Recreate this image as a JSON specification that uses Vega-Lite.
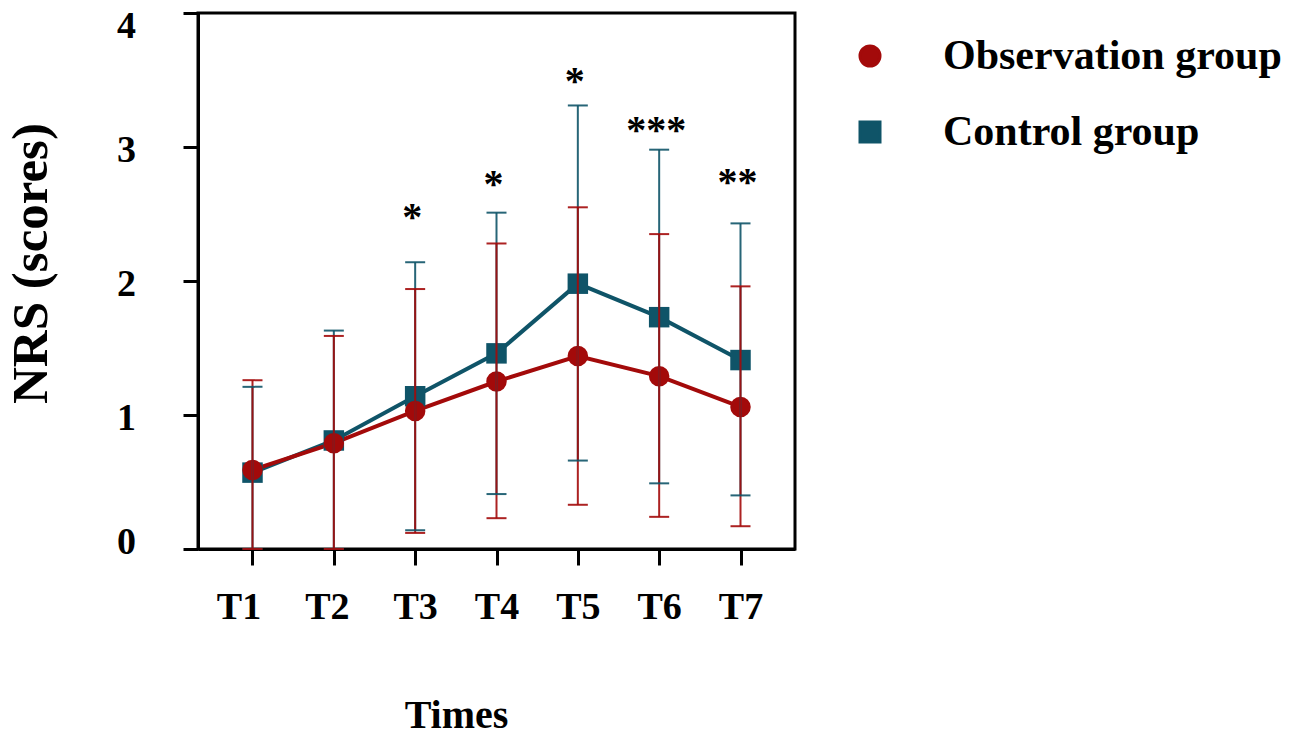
{
  "$schema": "https://vega.github.io/schema/vega-lite/v6.json",
  "width": 597,
  "height": 536,
  "autosize": "none",
  "padding": {"left": 198, "top": 13, "right": 498, "bottom": 189},
  "background": "white",
  "config": {
    "view": {"stroke": "#000", "strokeWidth": 3},
    "font": "Liberation Serif"
  },
  "datasets": {
    "stats": [
      {"time": "T1", "group": "Control group", "mean": 0.57, "lower": 0.0, "upper": 1.21},
      {"time": "T2", "group": "Control group", "mean": 0.81, "lower": 0.0, "upper": 1.63},
      {"time": "T3", "group": "Control group", "mean": 1.14, "lower": 0.14, "upper": 2.14},
      {"time": "T4", "group": "Control group", "mean": 1.46, "lower": 0.41, "upper": 2.51},
      {"time": "T5", "group": "Control group", "mean": 1.98, "lower": 0.66, "upper": 3.31},
      {"time": "T6", "group": "Control group", "mean": 1.73, "lower": 0.49, "upper": 2.98},
      {"time": "T7", "group": "Control group", "mean": 1.41, "lower": 0.40, "upper": 2.43},
      {"time": "T1", "group": "Observation group", "mean": 0.59, "lower": 0.0, "upper": 1.26},
      {"time": "T2", "group": "Observation group", "mean": 0.79, "lower": 0.0, "upper": 1.59},
      {"time": "T3", "group": "Observation group", "mean": 1.03, "lower": 0.12, "upper": 1.94},
      {"time": "T4", "group": "Observation group", "mean": 1.25, "lower": 0.23, "upper": 2.28},
      {"time": "T5", "group": "Observation group", "mean": 1.44, "lower": 0.33, "upper": 2.55},
      {"time": "T6", "group": "Observation group", "mean": 1.29, "lower": 0.24, "upper": 2.35},
      {"time": "T7", "group": "Observation group", "mean": 1.06, "lower": 0.17, "upper": 1.96}
    ],
    "sig": [
      {"time": "T3", "label": "*", "ypos": 2.52},
      {"time": "T4", "label": "*", "ypos": 2.77},
      {"time": "T5", "label": "*", "ypos": 3.54},
      {"time": "T6", "label": "***", "ypos": 3.17},
      {"time": "T7", "label": "**", "ypos": 2.78}
    ]
  },
  "data": {"name": "stats"},
  "encoding": {
    "x": {
      "field": "time",
      "type": "ordinal",
      "scale": {"type": "point", "domain": ["T1", "T2", "T3", "T4", "T5", "T6", "T7"], "padding": 0.67},
      "axis": {
        "title": "Times",
        "titleFont": "Liberation Serif",
        "titleFontSize": 40,
        "titleFontWeight": "bold",
        "titleColor": "#000",
        "titleX": 258,
        "titleY": 178,
        "titleAlign": "center",
        "titleBaseline": "alphabetic",
        "labelAngle": 0,
        "labelFont": "Liberation Serif",
        "labelFontSize": 38,
        "labelFontWeight": "bold",
        "labelColor": "#000",
        "labelBaseline": "alphabetic",
        "labelPadding": 53,
        "labelOffset": {"condition": [{"test": "datum.value === 'T1'", "value": -14}, {"test": "datum.value === 'T2'", "value": -7}], "value": 0},
        "tickSize": 16,
        "tickWidth": 3,
        "tickColor": "#000",
        "domainColor": "#000",
        "domainWidth": 3,
        "grid": false
      }
    },
    "y": {
      "type": "quantitative",
      "scale": {"domain": [0, 4], "nice": false, "zero": true},
      "axis": {
        "title": "NRS (scores)",
        "titleFont": "Liberation Serif",
        "titleFontSize": 51,
        "titleFontWeight": "bold",
        "titleColor": "#000",
        "titleAngle": -90,
        "titleX": -152,
        "titleY": 250,
        "titleAlign": "center",
        "titleBaseline": "alphabetic",
        "values": [0, 1, 2, 3, 4],
        "labelFont": "Liberation Serif",
        "labelFontSize": 38,
        "labelFontWeight": "bold",
        "labelColor": "#000",
        "labelAlign": "center",
        "labelBaseline": "middle",
        "labelPadding": 57,
        "labelOffset": {"condition": [{"test": "datum.value === 4", "value": 13}, {"test": "datum.value === 0", "value": -7}], "value": 3},
        "tickSize": 15,
        "tickWidth": 3,
        "tickColor": "#000",
        "domainColor": "#000",
        "domainWidth": 3,
        "grid": false
      }
    }
  },
  "layer": [
    {
      "mark": {"type": "line", "strokeWidth": 4},
      "encoding": {
        "y": {"field": "mean", "type": "quantitative"},
        "color": {
          "field": "group",
          "type": "nominal",
          "scale": {"domain": ["Observation group", "Control group"], "range": ["#a30a0a", "#0f5468"]},
          "legend": {
            "orient": "none",
            "legendX": 651,
            "legendY": 22,
            "title": null,
            "labelFont": "Liberation Serif",
            "labelFontSize": 42,
            "labelFontWeight": "bold",
            "labelColor": "#000",
            "labelOffset": 52,
            "labelLimit": 0,
            "symbolSize": 400,
            "symbolStrokeWidth": 3,
            "rowPadding": 34,
            "encode": {
              "symbols": {
                "update": {
                  "shape": {"signal": "datum.value === 'Observation group' ? 'M-2.25,0H2.25M0.95,0A0.95,0.95,0,1,1,-0.95,0A0.95,0.95,0,1,1,0.95,0Z' : 'M-2.25,0H2.25M-0.95,-0.95H0.95V0.95H-0.95Z'"},
                  "fill": {"signal": "datum.value === 'Observation group' ? '#a30a0a' : '#0f5468'"},
                  "stroke": {"signal": "datum.value === 'Observation group' ? '#a30a0a' : '#0f5468'"},
                  "strokeWidth": {"value": 3},
                  "opacity": {"value": 1},
                  "fillOpacity": {"value": 1},
                  "strokeOpacity": {"value": 1}
                }
              }
            }
          }
        }
      }
    },
    {
      "mark": {"type": "point", "filled": true, "opacity": 1, "size": 420},
      "encoding": {
        "y": {"field": "mean", "type": "quantitative"},
        "color": {"field": "group", "type": "nominal", "legend": null},
        "shape": {
          "field": "group",
          "type": "nominal",
          "scale": {"domain": ["Observation group", "Control group"], "range": ["circle", "square"]},
          "legend": null
        }
      }
    },
    {
      "mark": {"type": "rule", "strokeWidth": 2, "opacity": 0.9},
      "encoding": {
        "y": {"field": "lower", "type": "quantitative"},
        "y2": {"field": "upper"},
        "color": {"field": "group", "type": "nominal", "legend": null}
      }
    },
    {
      "mark": {"type": "tick", "size": 20, "thickness": 2, "opacity": 0.9},
      "encoding": {
        "y": {"field": "lower", "type": "quantitative"},
        "color": {"field": "group", "type": "nominal", "legend": null}
      }
    },
    {
      "mark": {"type": "tick", "size": 20, "thickness": 2, "opacity": 0.9},
      "encoding": {
        "y": {"field": "upper", "type": "quantitative"},
        "color": {"field": "group", "type": "nominal", "legend": null}
      }
    },
    {
      "data": {"name": "sig"},
      "mark": {"type": "text", "font": "Liberation Serif", "fontSize": 40, "fontWeight": "bold", "baseline": "alphabetic", "dy": 19, "dx": -3, "color": "#000"},
      "encoding": {
        "y": {"field": "ypos", "type": "quantitative"},
        "text": {"field": "label"}
      }
    }
  ]
}
